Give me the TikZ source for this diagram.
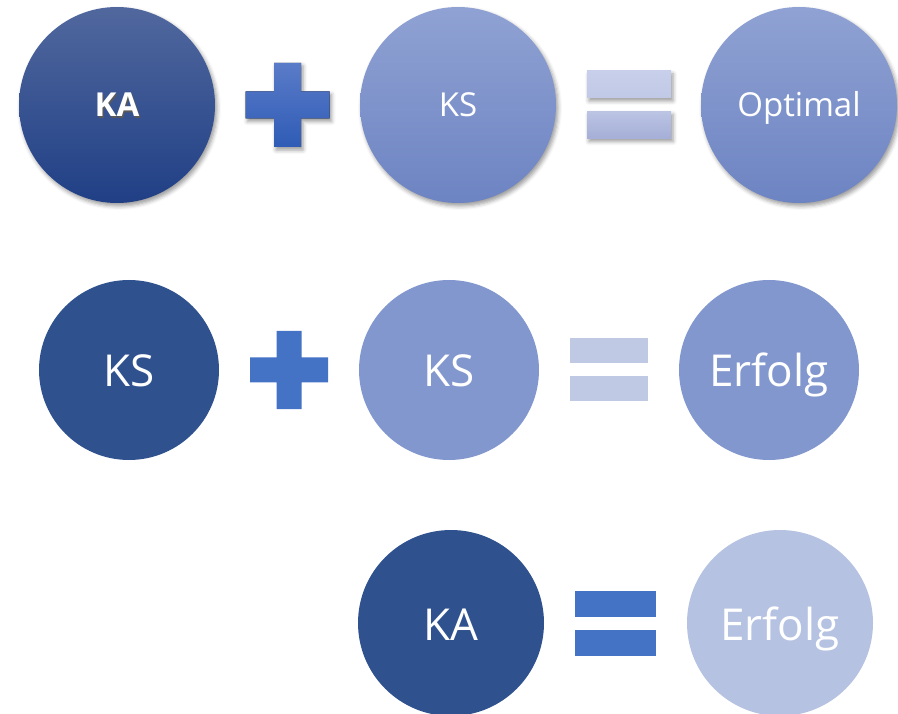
\documentclass[tikz,border=0pt]{standalone}
\usepackage{fontspec}
\setmainfont{Open Sans}
\usetikzlibrary{shadows.blur}

\definecolor{navy}{HTML}{2F528F}
\definecolor{royal}{HTML}{4472C4}
\definecolor{soft}{HTML}{8397CF}
\definecolor{pale}{HTML}{BFC9E4}
\definecolor{faint}{HTML}{B5C2E1}

% text with a small dark shadow behind it
\newcommand{\shadowed}[1]{\rlap{\hspace{1.3pt}\raisebox{-1.3pt}{\textcolor{black!65}{#1}}}#1}

\begin{document}
\begin{tikzpicture}[x=1pt, y=-1pt]
    % styles
    \tikzstyle{ball} = [circle, inner sep=0pt, text=white]
    \tikzstyle{glossy} = [blur shadow={shadow xshift=2pt, shadow yshift=-3pt, shadow blur radius=4pt, shadow opacity=40}]
    \tikzstyle{bigball} = [ball, glossy, minimum size=196pt, text height=24pt, text depth=0pt, font=\fontsize{33}{38}\selectfont]
    \tikzstyle{flatball} = [ball, minimum size=180pt, text height=34pt, text depth=0pt, font=\fontsize{44}{50}\selectfont]
    \tikzstyle{lastball} = [ball, minimum size=186pt, text height=34pt, text depth=0pt, font=\fontsize{44}{50}\selectfont]
    \tikzstyle{bar} = [rectangle, inner sep=0pt, minimum width=84pt, minimum height=27pt]

    \useasboundingbox (0,0) rectangle (898,714);

    % first row
    \node [bigball, top color={rgb,255:red,81;green,104;blue,158}, bottom color={rgb,255:red,32;green,63;blue,133}] (ka1) at (117,105) {\bfseries\shadowed{KA}};
    \node [bigball, top color={rgb,255:red,144;green,162;blue,211}, bottom color={rgb,255:red,109;green,132;blue,195}] (ks1) at (458,105) {KS};
    \node [bigball, top color={rgb,255:red,144;green,162;blue,211}, bottom color={rgb,255:red,109;green,132;blue,195}] (opt) at (799,105) {Optimal};
    \coordinate (plus1) at (287.5,105);
    \fill [glossy, top color={rgb,255:red,90;green,123;blue,200}, bottom color={rgb,255:red,47;green,92;blue,182}]
        (plus1) ++(-13.5,-42) -- ++(27,0) -- ++(0,28.5) -- ++(28.5,0) -- ++(0,27) -- ++(-28.5,0)
        -- ++(0,28.5) -- ++(-27,0) -- ++(0,-28.5) -- ++(-28.5,0) -- ++(0,-27) -- ++(28.5,0) -- cycle;
    \node [bar, glossy, top color={rgb,255:red,200;green,207;blue,234}, bottom color={rgb,255:red,192;green,201;blue,230}] (eq1a) at (629,84.5) {};
    \node [bar, glossy, top color={rgb,255:red,187;green,196;blue,227}, bottom color={rgb,255:red,165;green,175;blue,215}] (eq1b) at (629,125) {};

    % second row
    \node [flatball, fill=navy] (ks2) at (129,370) {KS};
    \node [flatball, fill=soft] (ks3) at (449,370) {KS};
    \node [flatball, fill=soft] (erf1) at (769,370) {Erfolg};
    \coordinate (plus2) at (289,370);
    \fill [royal]
        (plus2) ++(-12.5,-39) -- ++(25,0) -- ++(0,26.5) -- ++(26.5,0) -- ++(0,25) -- ++(-26.5,0)
        -- ++(0,26.5) -- ++(-25,0) -- ++(0,-26.5) -- ++(-26.5,0) -- ++(0,-25) -- ++(26.5,0) -- cycle;
    \node [bar, fill=pale, minimum width=78pt, minimum height=25pt] (eq2a) at (609,350.5) {};
    \node [bar, fill=pale, minimum width=78pt, minimum height=25pt] (eq2b) at (609,388.5) {};

    % third row
    \node [lastball, fill=navy] (ka2) at (451,623) {KA};
    \node [lastball, fill=faint] (erf2) at (780,623) {Erfolg};
    \node [bar, fill=royal, minimum width=81pt, minimum height=26pt] (eq3a) at (615.5,604) {};
    \node [bar, fill=royal, minimum width=81pt, minimum height=26pt] (eq3b) at (615.5,643) {};
\end{tikzpicture}
\end{document}
